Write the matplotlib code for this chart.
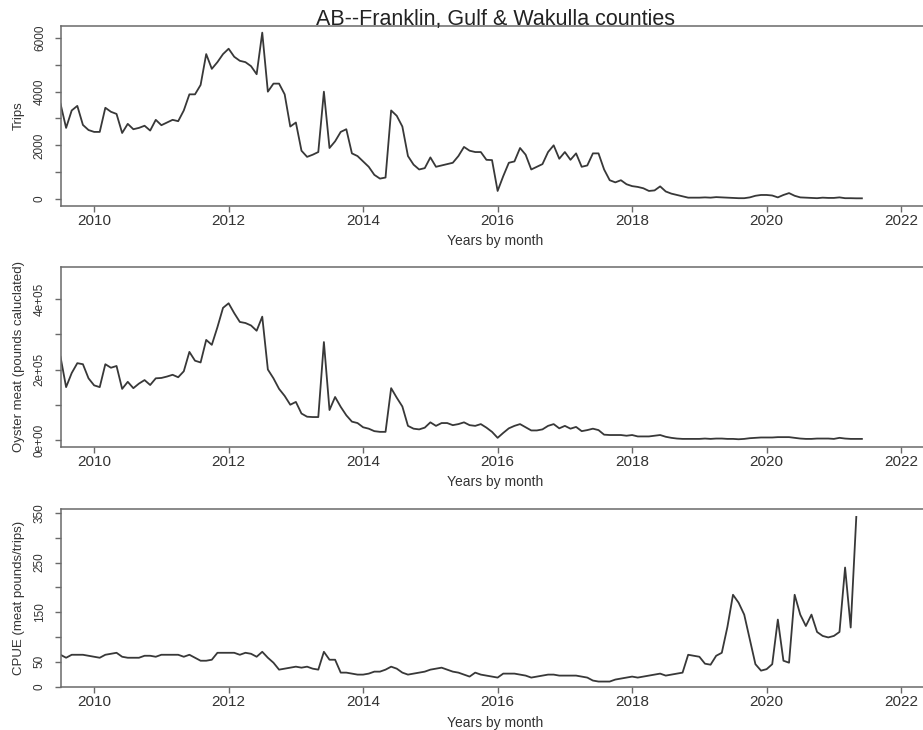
import numpy as np
import matplotlib
matplotlib.use("Agg")
import matplotlib.pyplot as plt

plt.rcParams['font.family'] = ['Liberation Sans', 'DejaVu Sans']

# Monthly series starting July 2009 (time = 2009 + 6/12)
start_year = 2009.5

trips = [3550, 2650, 3300, 3470, 2760, 2570, 2500, 2500, 3400, 3250,
         3170, 2460, 2800, 2600, 2650, 2730, 2550, 2950, 2750, 2850,
         2950, 2900, 3300, 3900, 3900, 4250, 5400, 4850, 5100, 5400,
         5600, 5300, 5150, 5100, 4950, 4650, 6200, 4000, 4300, 4300,
         3900, 2700, 2850, 1800, 1570, 1650, 1750, 4000, 1900, 2150,
         2500, 2600, 1700, 1600, 1400, 1200, 900, 760, 800, 3300,
         3100, 2700, 1600, 1280, 1100, 1150, 1550, 1200, 1250, 1300,
         1350, 1600, 1940, 1800, 1750, 1750, 1460, 1450, 300, 850,
         1350, 1400, 1900, 1650, 1100, 1200, 1300, 1750, 2000, 1500,
         1750, 1460, 1700, 1200, 1250, 1700, 1700, 1100, 700, 620,
         700, 550, 480, 450, 400, 300, 320, 470, 280, 200,
         150, 100, 50, 50, 50, 60, 50, 70, 60, 50,
         40, 30, 30, 60, 120, 150, 150, 130, 60, 150,
         220, 120, 60, 50, 40, 30, 50, 40, 40, 60,
         30, 30, 25, 25]

oyster = [2.36e5, 1.50e5, 1.90e5, 2.18e5, 2.15e5, 1.75e5, 1.55e5, 1.50e5, 2.15e5, 2.05e5,
          2.10e5, 1.45e5, 1.65e5, 1.47e5, 1.60e5, 1.70e5, 1.56e5, 1.75e5, 1.76e5, 1.80e5,
          1.85e5, 1.78e5, 1.95e5, 2.50e5, 2.25e5, 2.20e5, 2.84e5, 2.70e5, 3.20e5, 3.75e5,
          3.88e5, 3.60e5, 3.35e5, 3.32e5, 3.25e5, 3.10e5, 3.50e5, 2.00e5, 1.75e5, 1.45e5,
          1.25e5, 1.00e5, 1.08e5, 0.75e5, 0.66e5, 0.65e5, 0.65e5, 2.78e5, 0.85e5, 1.22e5,
          0.94e5, 0.70e5, 0.52e5, 0.48e5, 0.36e5, 0.32e5, 0.25e5, 0.23e5, 0.23e5, 1.47e5,
          1.20e5, 0.95e5, 0.40e5, 0.32e5, 0.30e5, 0.35e5, 0.50e5, 0.40e5, 0.48e5, 0.48e5,
          0.42e5, 0.45e5, 0.50e5, 0.42e5, 0.40e5, 0.45e5, 0.35e5, 0.23e5, 0.06e5, 0.20e5,
          0.33e5, 0.40e5, 0.45e5, 0.36e5, 0.27e5, 0.27e5, 0.30e5, 0.40e5, 0.45e5, 0.33e5,
          0.40e5, 0.32e5, 0.37e5, 0.25e5, 0.28e5, 0.32e5, 0.28e5, 0.15e5, 0.14e5, 0.14e5,
          0.14e5, 0.12e5, 0.14e5, 0.10e5, 0.10e5, 0.10e5, 0.12e5, 0.14e5, 0.09e5, 0.06e5,
          0.04e5, 0.03e5, 0.03e5, 0.03e5, 0.03e5, 0.04e5, 0.03e5, 0.04e5, 0.04e5, 0.03e5,
          0.03e5, 0.02e5, 0.03e5, 0.05e5, 0.06e5, 0.07e5, 0.07e5, 0.07e5, 0.08e5, 0.08e5,
          0.08e5, 0.06e5, 0.04e5, 0.03e5, 0.03e5, 0.04e5, 0.04e5, 0.04e5, 0.03e5, 0.06e5,
          0.04e5, 0.03e5, 0.03e5, 0.03e5]

cpue = [64, 58, 64, 64, 64, 62, 60, 58, 64, 66,
        68, 60, 58, 58, 58, 62, 62, 60, 64, 64,
        64, 64, 60, 64, 58, 52, 52, 54, 68, 68,
        68, 68, 64, 68, 66, 60, 70, 58, 48, 34,
        36, 38, 40, 38, 40, 36, 34, 70, 54, 54,
        28, 28, 26, 24, 24, 26, 30, 30, 34, 40,
        36, 28, 24, 26, 28, 30, 34, 36, 38, 34,
        30, 28, 24, 20, 28, 24, 22, 20, 18, 26,
        26, 26, 24, 22, 18, 20, 22, 24, 24, 22,
        22, 22, 22, 20, 18, 12, 10, 10, 10, 14,
        16, 18, 20, 18, 20, 22, 24, 26, 22, 24,
        26, 28, 64, 62, 60, 46, 44, 62, 68, 120,
        185, 169, 145, 95, 45, 32, 35, 45, 135, 52,
        48, 185, 145, 122, 145, 110, 102, 99, 102, 110,
        240, 119, 342, np.nan]

x_ticks = [2010, 2012, 2014, 2016, 2018, 2020, 2022]
x_ticklabels = ["2010", "2012", "2014", "2016", "2018", "2020", "2022"]

trips_ticks = [0, 1000, 2000, 3000, 4000, 5000, 6000]
trips_labels = ["0", "", "2000", "", "4000", "", "6000"]
oyster_ticks = [0, 1e5, 2e5, 3e5, 4e5]
oyster_labels = ["0e+00", "", "2e+05", "", "4e+05"]
cpue_ticks = [0, 50, 100, 150, 200, 250, 300, 350]
cpue_labels = ["0", "50", "", "150", "", "250", "", "350"]

title = "AB--Franklin, Gulf & Wakulla counties"
xlabel = "Years by month"
ylabels = ["Trips", "Oyster meat (pounds caluclated)", "CPUE (meat pounds/trips)"]

t = start_year + np.arange(len(trips)) / 12.0

W, H = 923, 730
fig = plt.figure(figsize=(W / 100, H / 100), dpi=100)
fig.patch.set_facecolor("white")

left_px, right_px = 60.5, 929
panels = [  # (top px, bottom px, ylim)
    (26, 206, (-261, 6447)),
    (267, 447, (-0.20e5, 4.91e5)),
    (509, 687, (-1, 358)),
]
series = [trips, oyster, cpue]
yticks = [trips_ticks, oyster_ticks, cpue_ticks]
yticklabels = [trips_labels, oyster_labels, cpue_labels]
xlabel_y = [241, 482, 723]

spine_col = "#6a6a6a"
text_col = "#333333"
line_col = "#383838"

for k in range(3):
    top, bot, ylim = panels[k]
    ax = fig.add_axes([left_px / W, (H - bot) / H, (right_px - left_px) / W, (bot - top) / H])
    ax.plot(t, series[k], color=line_col, lw=1.3)
    ax.set_xlim(2009.5, 2009.5 + (right_px - left_px) / 67.25)
    ax.set_ylim(*ylim)
    ax.set_xticks(x_ticks)
    ax.set_xticklabels(x_ticklabels, fontsize=11, color=text_col)
    ax.set_yticks(yticks[k])
    ax.set_yticklabels(yticklabels[k], fontsize=8.5, color=text_col, rotation=90, va="center")
    ax.tick_params(axis="both", direction="out", length=4.5, width=1.0, color=spine_col)
    ax.tick_params(axis="x", pad=1.5)
    ax.tick_params(axis="y", pad=6)
    for s in ax.spines.values():
        s.set_color(spine_col)
        s.set_linewidth(1.1)
    ax.set_xlabel(xlabel, fontsize=10, color=text_col, va="center")
    ax.xaxis.set_label_coords(0.5, (bot - xlabel_y[k]) / (bot - top))
    ax.set_ylabel(ylabels[k], fontsize=9.5, color=text_col, va="center")
    ax.yaxis.set_label_coords((19 - left_px) / (right_px - left_px), 0.5)

fig.text(496 / W, 1 - 25 / H, title, ha="center", va="baseline", fontsize=15.5, color="#222222")

fig.savefig("out.png", dpi=100)
